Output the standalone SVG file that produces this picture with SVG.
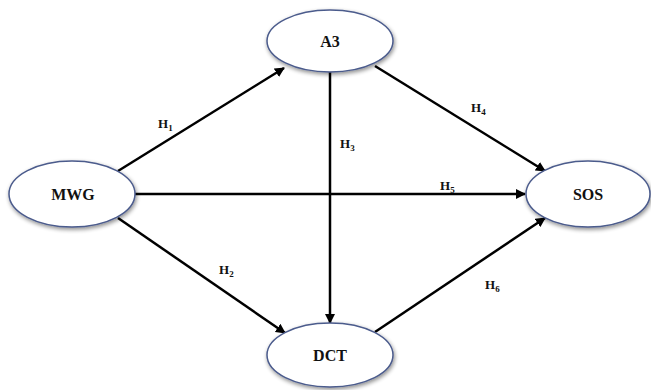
<svg xmlns="http://www.w3.org/2000/svg" width="651" height="390" viewBox="0 0 651 390">
<defs>
<style>
.node ellipse{fill:#fff;stroke:#4b5b8c;stroke-width:1.5;filter:url(#sh)}
.lbl{font-family:"Liberation Serif",serif;font-weight:bold;font-size:16px;fill:#111;text-anchor:middle}
.h{font-family:"Liberation Serif",serif;font-weight:bold;font-size:13px;fill:#111}
.h tspan{font-size:9px}
.edges line{stroke:#000;stroke-width:2.5;marker-end:url(#ah)}
</style>
<filter id="sh" x="-20%" y="-30%" width="140%" height="160%">
<feGaussianBlur in="SourceAlpha" stdDeviation="2"/>
<feOffset dx="1" dy="1.5" result="b"/>
<feComponentTransfer><feFuncA type="linear" slope="0.45"/></feComponentTransfer>
<feMerge><feMergeNode/><feMergeNode in="SourceGraphic"/></feMerge>
</filter>
<marker id="ah" viewBox="0 0 10 10" refX="9" refY="5" markerWidth="4" markerHeight="4" orient="auto" markerUnits="strokeWidth">
<path d="M0,0 L10,5 L0,10 Z" fill="#000"/>
</marker>
</defs>
<rect width="651" height="390" fill="#fff"/>
<g id="edges" class="edges">
<line x1="118" y1="171" x2="284" y2="68"/>
<line x1="118" y1="218" x2="285" y2="333"/>
<line x1="135" y1="194" x2="525" y2="194"/>
<line x1="330" y1="72" x2="330" y2="323"/>
<line x1="375" y1="66" x2="545" y2="171"/>
<line x1="375" y1="332" x2="545" y2="218"/>
</g>
<g id="labels">
<text class="h" x="158" y="128">H<tspan dy="3">1</tspan></text>
<text class="h" x="219" y="274">H<tspan dy="3">2</tspan></text>
<text class="h" x="340" y="148">H<tspan dy="3">3</tspan></text>
<text class="h" x="471" y="112">H<tspan dy="3">4</tspan></text>
<text class="h" x="440" y="190">H<tspan dy="3">5</tspan></text>
<text class="h" x="485" y="289">H<tspan dy="3">6</tspan></text>
</g>
<g id="MWG" class="node"><ellipse cx="72" cy="194" rx="63" ry="33"/><text class="lbl" x="73" y="200">MWG</text></g>
<g id="A3" class="node"><ellipse cx="330" cy="41" rx="63" ry="31"/><text class="lbl" x="330" y="47">A3</text></g>
<g id="DCT" class="node"><ellipse cx="330" cy="355" rx="63" ry="32"/><text class="lbl" x="330" y="361">DCT</text></g>
<g id="SOS" class="node"><ellipse cx="588" cy="194" rx="62" ry="33"/><text class="lbl" x="588" y="200">SOS</text></g>
</svg>
